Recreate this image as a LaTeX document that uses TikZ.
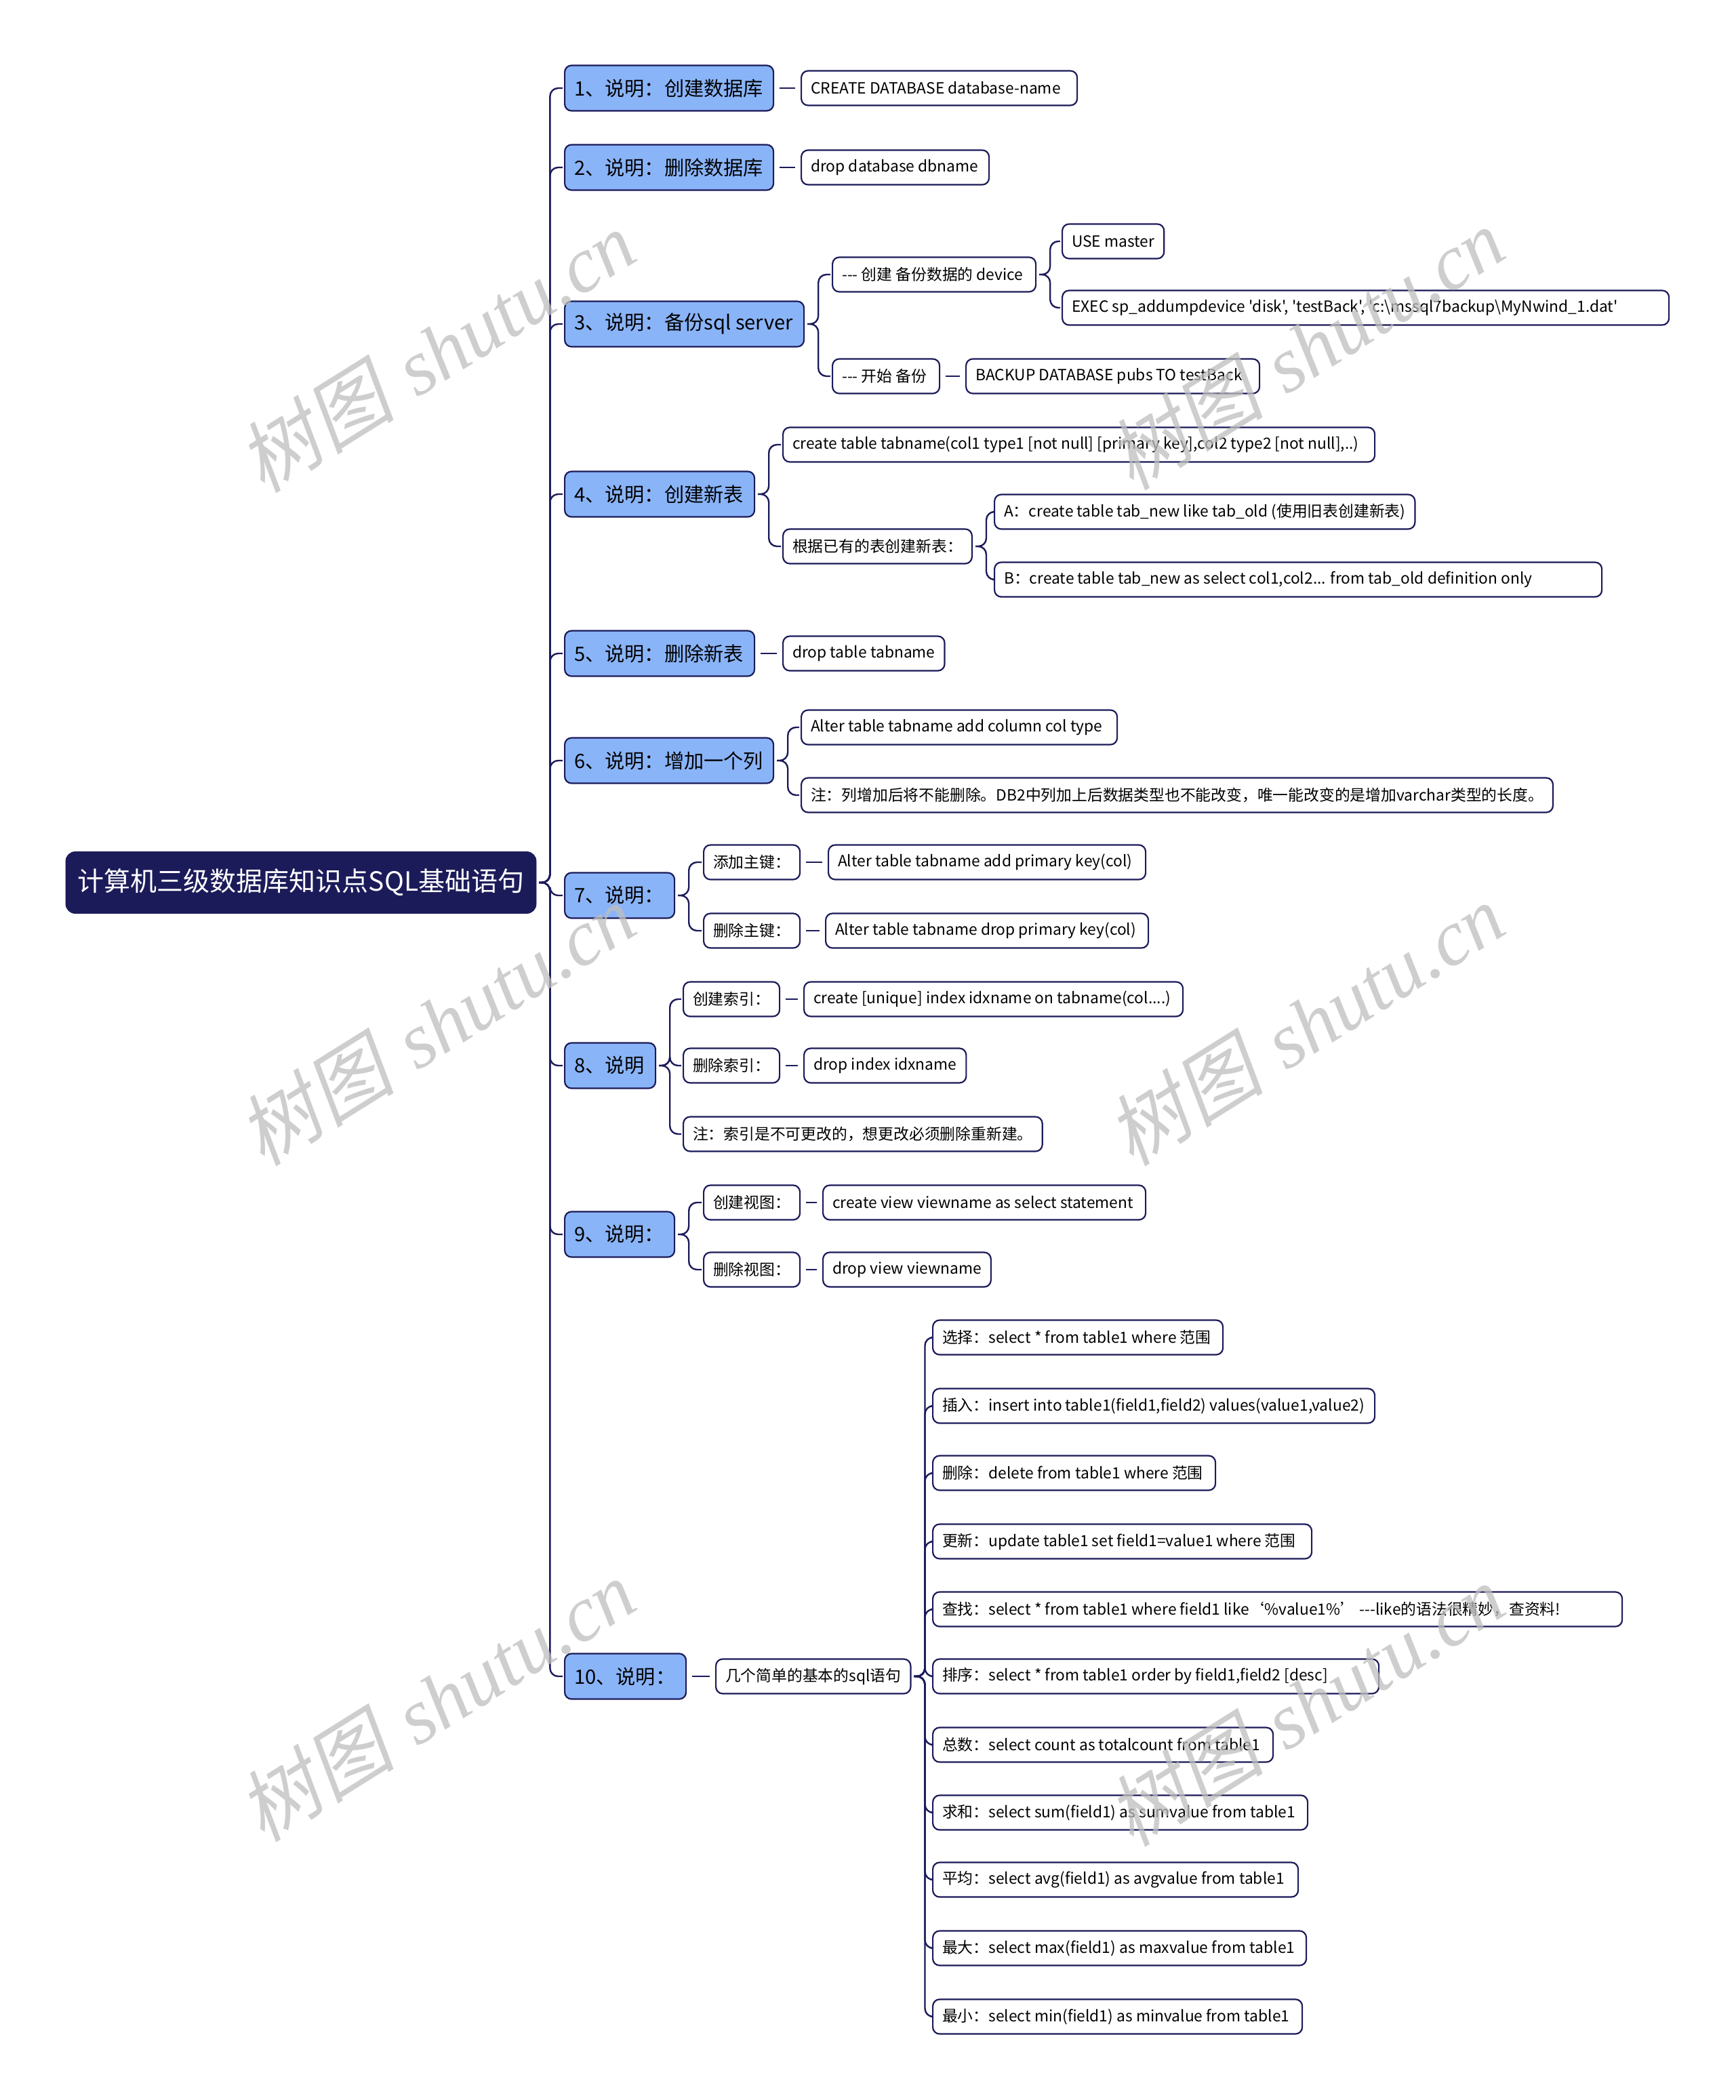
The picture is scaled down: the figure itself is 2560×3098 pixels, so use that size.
\documentclass[tikz,border=0pt]{standalone}
\usepackage{fontspec}
\newfontfamily\cjk{Noto Sans CJK SC}
\newfontfamily\wmcjk[FakeSlant=0.2]{Noto Sans CJK SC}
\newfontfamily\wmserif{Liberation Serif}
\usetikzlibrary{calc}
\definecolor{navy}{HTML}{1C1B5A}
\definecolor{lblue}{HTML}{8AB4F8}
\definecolor{wmgray}{HTML}{BEBEBE}
\newlength\tmplen
\newcommand\lbox[2]{\settowidth\tmplen{#2}\ifdim\tmplen<\dimexpr#1pt/2-14pt\relax\makebox[\dimexpr#1pt/2-14pt\relax][l]{#2}\else#2\fi}
\tikzset{
  base/.style={draw=navy,line width=1.1pt,rounded corners=5pt,inner xsep=7pt,inner ysep=0pt,anchor=west},
  root/.style={fill=navy,draw=navy,text=white,rounded corners=7pt,minimum width=347pt,minimum height=45.5pt,font=\cjk\fontsize{19.5}{22}\selectfont},
  lone/.style={base,fill=lblue,minimum height=33.5pt,font=\cjk\fontsize{14.6}{17}\selectfont},
  leaf/.style={base,fill=white,minimum height=25.5pt,font=\cjk\fontsize{11.4}{13}\selectfont},
  conn/.style={draw=navy,line width=1.2pt,rounded corners=6pt},
  wmk/.style={text=wmgray,opacity=0.75,rotate=32,font=\fontsize{58}{60}\selectfont}
}
\newcommand\brlink[2]{\draw[conn] let \p1=(#1.east), \p2=(#2.west) in (\x1+2pt,\y1) -- (\x1+10pt,\y1) -- (\x1+10pt,\y2) -- (\x2-1pt,\y2);}
\newcommand\slink[2]{\draw[conn] ([xshift=4pt]#1.east) -- ([xshift=-4pt]#2.west);}
\begin{document}
\begin{tikzpicture}[x=0.5pt,y=-0.5pt]
\useasboundingbox (0,0) rectangle (2560,3098);
\fill[white] (0,0) rectangle (2560,3098);
% root
\node[root] (root) at (444,1302) {计算机三级数据库知识点SQL基础语句};
% level 1
\node[lone] (n1) at (832,130) {\lbox{308}{1、说明：创建数据库}};
\node[lone] (n2) at (832,247) {\lbox{308}{2、说明：删除数据库}};
\node[lone] (n3) at (832,478) {\lbox{353}{3、说明：备份sql server}};
\node[lone] (n4) at (832,729) {\lbox{280}{4、说明：创建新表}};
\node[lone] (n5) at (832,964) {\lbox{280}{5、说明：删除新表}};
\node[lone] (n6) at (832,1122) {\lbox{308}{6、说明：增加一个列}};
\node[lone] (n7) at (832,1321) {\lbox{162}{7、说明：}};
\node[lone] (n8) at (832,1572) {\lbox{134}{8、说明}};
\node[lone] (n9) at (832,1821) {\lbox{162}{9、说明：}};
\node[lone] (n10) at (832,2473) {\lbox{179}{10、说明：}};
% 1,2
\node[leaf] (a1) at (1181,130) {\lbox{407}{CREATE DATABASE database-name}};
\node[leaf] (a2) at (1181,247) {\lbox{277}{drop database dbname}};
% 3
\node[leaf] (b1) at (1227,405) {\lbox{300}{--- 创建 备份数据的 device}};
\node[leaf] (b2) at (1227,555) {\lbox{158}{--- 开始 备份}};
\node[leaf] (b11) at (1566,356) {\lbox{147}{USE master}};
\node[leaf] (b12) at (1566,454) {\lbox{895}{EXEC sp\_addumpdevice 'disk', 'testBack', 'c:\textbackslash mssql7backup\textbackslash MyNwind\_1.dat'}};
\node[leaf] (b21) at (1424,555) {\lbox{433}{BACKUP DATABASE pubs TO testBack}};
% 4
\node[leaf] (c1) at (1154,656) {\lbox{873}{create table tabname(col1 type1 [not null] [primary key],col2 type2 [not null],..)}};
\node[leaf] (c2) at (1154,806) {\lbox{270}{根据已有的表创建新表：}};
\node[leaf] (c21) at (1466,755) {\lbox{618}{A：create table tab\_new like tab\_old (使用旧表创建新表)}};
\node[leaf] (c22) at (1466,855) {\lbox{896}{B：create table tab\_new as select col1,col2... from tab\_old definition only}};
% 5
\node[leaf] (d1) at (1154,964) {\lbox{237}{drop table tabname}};
% 6
\node[leaf] (e1) at (1181,1073) {\lbox{466}{Alter table tabname add column col type}};
\node[leaf] (e2) at (1181,1173) {\lbox{1099}{注：列增加后将不能删除。DB2中列加上后数据类型也不能改变，唯一能改变的是增加varchar类型的长度。}};
% 7
\node[leaf] (f1) at (1037,1272) {\lbox{142}{添加主键：}};
\node[leaf] (f2) at (1037,1373) {\lbox{134}{删除主键：}};
\node[leaf] (f11) at (1221,1272) {\lbox{468}{Alter table tabname add primary key(col)}};
\node[leaf] (f21) at (1217,1373) {\lbox{476}{Alter table tabname drop primary key(col)}};
% 8
\node[leaf] (g1) at (1007,1474) {\lbox{137}{创建索引：}};
\node[leaf] (g2) at (1007,1572) {\lbox{137}{删除索引：}};
\node[leaf] (g3) at (1007,1673) {\lbox{520}{注：索引是不可更改的，想更改必须删除重新建。}};
\node[leaf] (g11) at (1185,1474) {\lbox{559}{create [unique] index idxname on tabname(col....)}};
\node[leaf] (g21) at (1185,1572) {\lbox{239}{drop index idxname}};
% 9
\node[leaf] (h1) at (1037,1774) {\lbox{138}{创建视图：}};
\node[leaf] (h2) at (1037,1873) {\lbox{138}{删除视图：}};
\node[leaf] (h11) at (1213,1774) {\lbox{476}{create view viewname as select statement}};
\node[leaf] (h21) at (1213,1873) {\lbox{247}{drop view viewname}};
% 10
\node[leaf] (k0) at (1055,2473) {\lbox{280}{几个简单的基本的sql语句}};
\node[leaf] (k1) at (1375,1973) {\lbox{428}{选择：select * from table1 where 范围}};
\node[leaf] (k2) at (1375,2074) {\lbox{652}{插入：insert into table1(field1,field2) values(value1,value2)}};
\node[leaf] (k3) at (1375,2173) {\lbox{417}{删除：delete from table1 where 范围}};
\node[leaf] (k4) at (1375,2274) {\lbox{559}{更新：update table1 set field1=value1 where 范围}};
\node[leaf] (k5) at (1375,2374) {\lbox{1017}{查找：select * from table1 where field1 like‘\%value1\%’ ---like的语法很精妙，查资料!}};
\node[leaf] (k6) at (1375,2473) {\lbox{658}{排序：select * from table1 order by field1,field2 [desc]}};
\node[leaf] (k7) at (1375,2574) {\lbox{502}{总数：select count as totalcount from table1}};
\node[leaf] (k8) at (1375,2674) {\lbox{553}{求和：select sum(field1) as sumvalue from table1}};
\node[leaf] (k9) at (1375,2773) {\lbox{539}{平均：select avg(field1) as avgvalue from table1}};
\node[leaf] (k10) at (1375,2874) {\lbox{551}{最大：select max(field1) as maxvalue from table1}};
\node[leaf] (k11) at (1375,2975) {\lbox{545}{最小：select min(field1) as minvalue from table1}};
% connectors
\foreach \c in {n1,n2,n3,n4,n5,n6,n7,n8,n9,n10} {\brlink{root}{\c}}
\slink{n1}{a1}
\slink{n2}{a2}
\brlink{n3}{b1}\brlink{n3}{b2}
\brlink{b1}{b11}\brlink{b1}{b12}
\slink{b2}{b21}
\brlink{n4}{c1}\brlink{n4}{c2}
\brlink{c2}{c21}\brlink{c2}{c22}
\slink{n5}{d1}
\brlink{n6}{e1}\brlink{n6}{e2}
\brlink{n7}{f1}\brlink{n7}{f2}
\slink{f1}{f11}\slink{f2}{f21}
\brlink{n8}{g1}\brlink{n8}{g2}\brlink{n8}{g3}
\slink{g1}{g11}\slink{g2}{g21}
\brlink{n9}{h1}\brlink{n9}{h2}
\slink{h1}{h11}\slink{h2}{h21}
\slink{n10}{k0}
\foreach \c in {k1,k2,k3,k4,k5,k6,k7,k8,k9,k10,k11} {\brlink{k0}{\c}}
% watermarks
\foreach \p [count=\i] in {(644,518),(1926,514),(644,1511),(1926,1511),(644,2508),(1926,2515)}
  \node[wmk] (wm\i) at \p {{\wmcjk 树图} {\wmserif\itshape shutu.cn}};
\end{tikzpicture}
\end{document}
